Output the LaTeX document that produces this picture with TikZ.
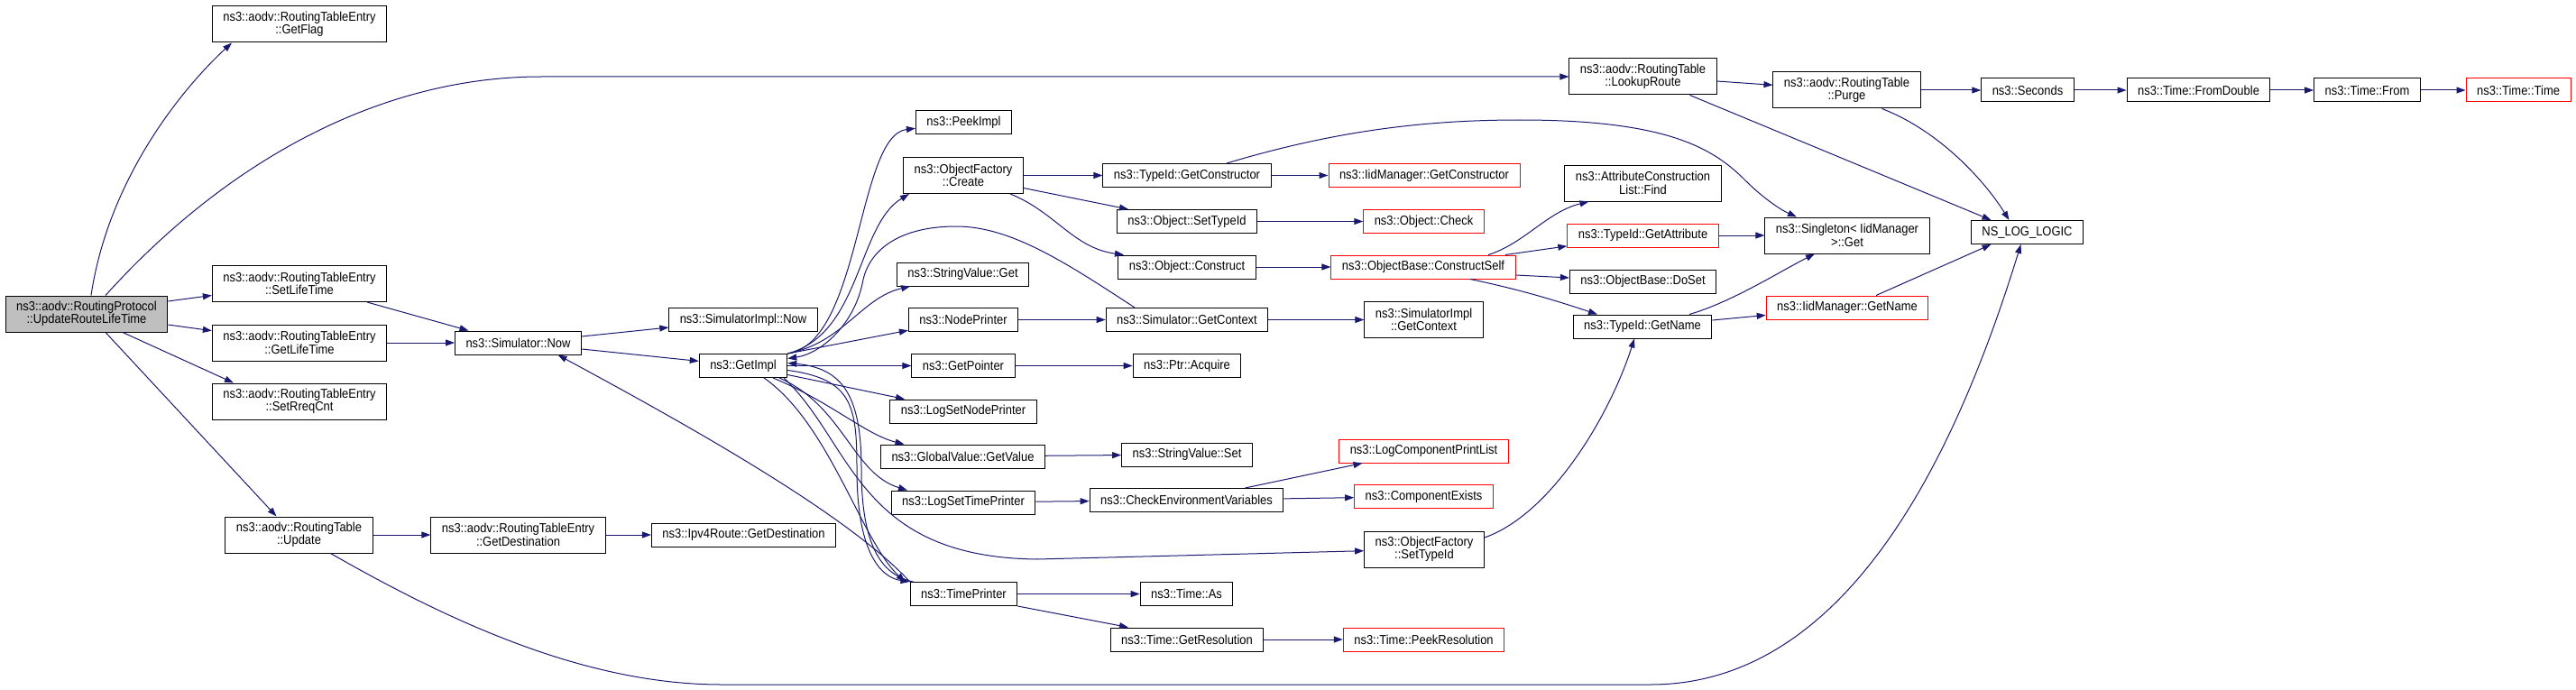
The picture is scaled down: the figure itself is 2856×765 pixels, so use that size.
\documentclass[tikz,border=0pt]{standalone}
\usepackage{fontspec}
\setmainfont{Liberation Sans}[FakeStretch=0.9]
\usepackage{tikz}
\usepackage{xcolor}
\usetikzlibrary{
    arrows.meta,
    positioning
}
\definecolor{callblue}{RGB}{25,25,112}
\definecolor{rootgray}{RGB}{191,191,191}
\definecolor{cutred}{RGB}{255,0,0}

\begin{document}
\begin{tikzpicture}[x=1pt, y=-1pt,
    fn/.style={draw=black, line width=1pt, fill=white, inner xsep=12pt, inner ysep=3pt,
        minimum height=26pt, align=center, font=\fontsize{14.4}{14.5}\selectfont},
    fn2/.style={fn, minimum height=40pt},
    cut/.style={draw=cutred},
    call/.style={draw=callblue, line width=1pt, >={Triangle[length=10pt, width=7pt]}, ->}
]
                        \useasboundingbox (0,0) rectangle (2856,765);

                        % caller and first column
                        \node[fn2, fill=rootgray] (nroot) at (96, 348) {ns3::aodv::RoutingProtocol\\::UpdateRouteLifeTime};
                        \node[fn2] (nflag) at (332, 27) {ns3::aodv::RoutingTableEntry\\::GetFlag};
                        \node[fn2] (nsetlt) at (332, 314.5) {ns3::aodv::RoutingTableEntry\\::SetLifeTime};
                        \node[fn2] (ngetlt) at (332, 380) {ns3::aodv::RoutingTableEntry\\::GetLifeTime};
                        \node[fn2] (nrreq) at (332, 445) {ns3::aodv::RoutingTableEntry\\::SetRreqCnt};
                        \node[fn2] (nupd) at (331.5, 593) {ns3::aodv::RoutingTable\\::Update};
                        \node[fn] (nnow) at (574.5, 380) {ns3::Simulator::Now};
                        \node[fn2] (ndest) at (574.5, 593) {ns3::aodv::RoutingTableEntry\\::GetDestination};
                        \node[fn] (nimplnow) at (824, 354.5) {ns3::SimulatorImpl::Now};
                        \node[fn] (nimpl) at (824, 405.5) {ns3::GetImpl};
                        \node[fn] (nv4dest) at (824.5, 593) {ns3::Ipv4Route::GetDestination};

                        % callees of GetImpl
                        \node[fn] (npeek) at (1068.5, 136) {ns3::PeekImpl};
                        \node[fn2] (ncreate) at (1068, 194.5) {ns3::ObjectFactory\\::Create};
                        \node[fn] (nsvget) at (1067.5, 304) {ns3::StringValue::Get};
                        \node[fn] (nnodep) at (1068, 354.5) {ns3::NodePrinter};
                        \node[fn] (nptr) at (1068, 405.5) {ns3::GetPointer};
                        \node[fn] (nlognode) at (1068, 456) {ns3::LogSetNodePrinter};
                        \node[fn] (ngvget) at (1067.5, 506) {ns3::GlobalValue::GetValue};
                        \node[fn] (nlogtime) at (1068, 557) {ns3::LogSetTimePrinter};
                        \node[fn] (ntimep) at (1068.5, 658.5) {ns3::TimePrinter};

                        \node[fn] (nctor) at (1316, 194.5) {ns3::TypeId::GetConstructor};
                        \node[fn] (nsetid) at (1316, 245.5) {ns3::Object::SetTypeId};
                        \node[fn] (nconstr) at (1316, 296) {ns3::Object::Construct};
                        \node[fn] (nsimctx) at (1316, 354.5) {ns3::Simulator::GetContext};
                        \node[fn] (nacq) at (1316, 405.5) {ns3::Ptr::Acquire};
                        \node[fn] (nsvset) at (1316, 504) {ns3::StringValue::Set};
                        \node[fn] (nenv) at (1315.5, 554.5) {ns3::CheckEnvironmentVariables};
                        \node[fn] (nas) at (1315.5, 658.5) {ns3::Time::As};
                        \node[fn] (nres) at (1316, 709) {ns3::Time::GetResolution};

                        \node[fn, cut] (niidctor) at (1579, 194.5) {ns3::IidManager::GetConstructor};
                        \node[fn, cut] (ncheck) at (1578.5, 245.5) {ns3::Object::Check};
                        \node[fn, cut] (nself) at (1578, 296) {ns3::ObjectBase::ConstructSelf};
                        \node[fn2] (nimplctx) at (1578.5, 354.5) {ns3::SimulatorImpl\\::GetContext};
                        \node[fn, cut] (nprintlist) at (1578.5, 500) {ns3::LogComponentPrintList};
                        \node[fn, cut] (nexists) at (1578.5, 550.5) {ns3::ComponentExists};
                        \node[fn2] (nofsetid) at (1579, 609) {ns3::ObjectFactory\\::SetTypeId};
                        \node[fn, cut] (npeekres) at (1578.5, 709) {ns3::Time::PeekResolution};

                        % right part
                        \node[fn2] (nlookup) at (1821.5, 85) {ns3::aodv::RoutingTable\\::LookupRoute};
                        \node[fn2] (nfind) at (1821.5, 203) {ns3::AttributeConstruction\\List::Find};
                        \node[fn, cut] (nattr) at (1821.5, 261) {ns3::TypeId::GetAttribute};
                        \node[fn] (ndoset) at (1821.5, 312) {ns3::ObjectBase::DoSet};
                        \node[fn] (nname) at (1821, 362) {ns3::TypeId::GetName};
                        \node[fn2] (npurge) at (2047.5, 100) {ns3::aodv::RoutingTable\\::Purge};
                        \node[fn2] (nsingle) at (2048, 261) {ns3::Singleton< IidManager\\ >::Get};
                        \node[fn, cut] (niidname) at (2048, 341) {ns3::IidManager::GetName};
                        \node[fn] (nsec) at (2248, 100) {ns3::Seconds};
                        \node[fn] (nlog) at (2247.5, 257.5) {NS\_LOG\_LOGIC};
                        \node[fn] (nfromd) at (2437.5, 100) {ns3::Time::FromDouble};
                        \node[fn] (nfrom) at (2624.5, 100) {ns3::Time::From};
                        \node[fn, cut] (ntime) at (2792, 100) {ns3::Time::Time};

                        \draw
                        ([yshift=14pt]nroot.east) edge[call] (nsetlt)
                        ([yshift=-12pt]nroot.east) edge[call] (ngetlt)
                        ([xshift=40pt]nroot.south) edge[call] ([xshift=-73pt]nrreq.north)
                        ([xshift=21pt]nroot.south) edge[call] ([xshift=-25pt]nupd.north)
                        ([xshift=75pt]nsetlt.south) edge[call] ([xshift=-55pt]nnow.north)
                        (ngetlt) edge[call] (nnow)
                        ([yshift=7pt]nnow.east) edge[call] (nimplnow)
                        ([yshift=-7pt]nnow.east) edge[call] (nimpl)
                        (nimpl.north east) edge[call] (nnodep)
                        (nimpl) edge[call] (nptr)
                        ([yshift=-10pt]nimpl.east) edge[call] (nlognode)
                        (ncreate) edge[call] (nctor)
                        ([yshift=-14pt]ncreate.east) edge[call] ([xshift=-65pt]nsetid.north)
                        (nctor) edge[call] (niidctor)
                        (nsetid) edge[call] (ncheck)
                        (nconstr) edge[call] (nself)
                        (nnodep) edge[call] (nsimctx)
                        (nsimctx) edge[call] (nimplctx)
                        (nptr) edge[call] (nacq)
                        (ngvget) edge[call] (nsvset)
                        (nlogtime) edge[call] (nenv)
                        ([xshift=65pt]nenv.north) edge[call] ([xshift=-68pt]nprintlist.south)
                        (nenv) edge[call] (nexists)
                        (ntimep) edge[call] (nas)
                        (ntimep.south east) edge[call] ([xshift=-65pt]nres.north)
                        (nres) edge[call] (npeekres)
                        (nupd) edge[call] (ndest)
                        (ndest) edge[call] (nv4dest)
                        ([yshift=-5pt]nlookup.east) edge[call] (npurge)
                        ([xshift=52pt]nlookup.south) edge[call] ([xshift=-40pt]nlog.north)
                        (npurge) edge[call] (nsec)
                        (nsec) edge[call] (nfromd)
                        (nfromd) edge[call] (nfrom)
                        (nfrom) edge[call] (ntime)
                        ([xshift=32pt]niidname.north) edge[call] ([xshift=-40pt]nlog.south)
                        ([yshift=7pt]nname.east) edge[call] (niidname)
                        (nattr) edge[call] (nsingle)
                        ([xshift=91pt]nself.north) edge[call] (nattr)
                        ([yshift=-9pt]nself.east) edge[call] (ndoset);

                        % curved calls
                        \draw[call] ([xshift=5pt]nroot.north) .. controls (120, 200) and (200, 100) .. ([xshift=-75pt]nflag.south);
                        \draw[call] ([xshift=21pt]nroot.north) .. controls (250, 180) and (420, 85) .. (600, 85) -- (nlookup);
                        \draw[call] (ntimep.north west) .. controls (940, 570) and (760, 470) .. ([xshift=44pt]nnow.south);
                        \draw[call] (nimpl.north east) .. controls (955, 380) and (950, 150) .. (npeek);
                        \draw[call] (nimpl.north east) .. controls (955, 370) and (950, 250) .. ([xshift=-60pt]ncreate.south);
                        \draw[call] (nimpl.north east) .. controls (935, 380) and (955, 330) .. (nsvget);
                        \draw[call] ([xshift=-58pt]nsimctx.north) .. controls (1180, 290) and (1120, 251) .. (1060, 251)
                            .. controls (1000, 251) and (965, 275) .. (957, 310)
                            .. controls (948, 360) and (910, 392) .. ([yshift=8pt]nimpl.east);
                        \draw[call] ([xshift=33pt]nimpl.south) .. controls (920, 445) and (960, 482) .. ([xshift=-65pt]ngvget.north);
                        \draw[call] ([xshift=40pt]nimpl.south) .. controls (935, 450) and (945, 525) .. ([xshift=-62pt]nlogtime.north);
                        \draw[call] ([xshift=45pt]nimpl.south) .. controls (945, 490) and (950, 618) .. (1150, 620) -- (nofsetid);
                        \draw[call] ([xshift=23pt]nimpl.south) .. controls (920, 470) and (955, 600) .. ([xshift=-65pt]ntimep.north);
                        \draw[call] ([yshift=-5pt]nimpl.east) .. controls (945, 420) and (950, 450) .. (950, 520)
                            .. controls (950, 610) and (975, 640) .. ([xshift=-60pt]ntimep.north);
                        \draw[call] ([xshift=-56pt]ntimep.north) .. controls (980, 638) and (955, 610) .. (955, 520)
                            .. controls (955, 440) and (935, 408) .. ([yshift=3pt]nimpl.east);
                        \draw[call] ([xshift=52pt]ncreate.south) .. controls (1170, 235) and (1190, 275) .. ([xshift=-70pt]nconstr.north);
                        \draw[call] ([xshift=44pt]nctor.north) .. controls (1480, 145) and (1580, 133) .. (1685, 133)
                            .. controls (1850, 133) and (1900, 165) .. (1935, 200)
                            .. controls (1955, 220) and (1975, 233) .. ([xshift=-56pt]nsingle.north);
                        \draw[call] ([xshift=72pt]nself.north) .. controls (1690, 270) and (1715, 235) .. ([xshift=-60pt]nfind.south);
                        \draw[call] ([xshift=52pt]nself.south) .. controls (1690, 322) and (1730, 335) .. ([xshift=-50pt]nname.north);
                        \draw[call] ([yshift=13pt]nofsetid.east) .. controls (1720, 570) and (1785, 460) .. ([xshift=-9pt]nname.south);
                        \draw[call] ([xshift=52pt]nname.north) .. controls (1920, 335) and (1975, 300) .. ([xshift=-36pt]nsingle.south);
                        \draw[call] ([xshift=39pt]npurge.south) .. controls (2150, 145) and (2200, 200) .. ([xshift=-20pt]nlog.north);
                        \draw[call] ([xshift=35pt]nupd.south) .. controls (500, 690) and (650, 759) .. (800, 759) -- (1830, 759)
                            .. controls (2050, 759) and (2170, 500) .. ([xshift=-7pt]nlog.south);
                    \end{tikzpicture}
\end{document}
